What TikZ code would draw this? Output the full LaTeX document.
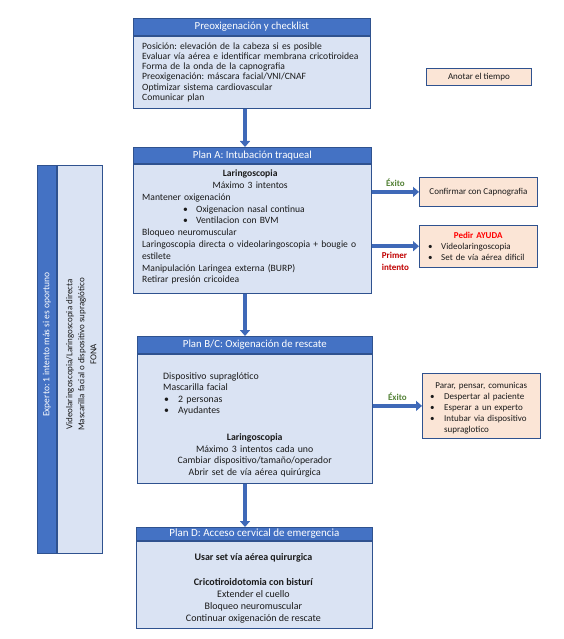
\documentclass[tikz,border=0pt]{standalone}
\usepackage{fontspec}
\setmainfont{Carlito}
\frenchspacing
\usetikzlibrary{positioning,arrows.meta,calc}
\definecolor{headblue}{HTML}{4472C4}
\definecolor{boxline}{HTML}{2F528F}
\definecolor{bodyblue}{HTML}{DAE3F3}
\definecolor{notepeach}{HTML}{FBE5D6}
\definecolor{arrowblue}{HTML}{3F69B8}
\definecolor{textdark}{HTML}{1A1A1A}
\definecolor{okgreen}{HTML}{538135}
\definecolor{failred}{HTML}{C00000}
\definecolor{alertred}{HTML}{FF0000}
\tikzset{
  header/.style={draw=boxline, fill=headblue, text=white, line width=0.8pt,
    inner sep=0pt, font=\fontsize{10.8}{12}\selectfont},
  bodybox/.style={draw=boxline, fill=bodyblue, line width=0.8pt, inner sep=0pt},
  notebox/.style={draw=boxline, fill=notepeach, line width=0.8pt, inner sep=0pt},
  bodytext/.style={text=textdark, inner sep=0pt, align=left,
    font=\fontsize{9}{11.5}\selectfont},
  steplabel/.style={font=\bfseries\fontsize{9}{12}\selectfont, inner sep=1pt},
}
\tikzstyle{bigarrow} = [line width=4.5pt, draw=arrowblue, -{Triangle[width=10pt,length=6pt]}]

\begin{document}
\begin{tikzpicture}[x=1pt,y=-1pt,node distance=0pt]
  \useasboundingbox (0,0) rectangle (563,639);
  \coordinate (spine) at (245,0);

  % preoxigenacion
  \node[header, minimum width=237pt, minimum height=17pt, anchor=north west] (preohead) at (133,18) {Preoxigenación y checklist};
  \node[bodybox, minimum width=237pt, minimum height=72pt, below=0pt of preohead] (preobody) {};
  \node[bodytext, text width=228pt, font=\fontsize{9.6}{10.2}\selectfont, anchor=west] (preotext) at ($(preobody.west)+(9,0)$) {Posición: elevación de la cabeza si es posible\\
    Evaluar vía aérea e identificar membrana cricotiroidea\\
    Forma de la onda de la capnografia\\
    Preoxigenación: máscara facial/VNI/CNAF\\
    Optimizar sistema cardiovascular\\
    Comunicar plan};

  % plan A
  \node[header, minimum width=238pt, minimum height=16pt, anchor=north west] (planahead) at (133,147) {Plan A: Intubación traqueal};
  \node[bodybox, minimum width=238pt, minimum height=129pt, below=0pt of planahead] (planabody) {};
  \node[bodytext, text width=224pt, font=\fontsize{9.6}{11.8}\selectfont, anchor=west] (planatext) at ($(planabody.west)+(9,-1.5)$) {\makebox[216pt]{\bfseries Laringoscopia}\\
    \makebox[216pt]{Máximo 3 intentos}\\
    Mantener oxigenación\\
    \hspace*{41pt}\makebox[13pt][l]{\textbullet}Oxigenacion nasal continua\\
    \hspace*{41pt}\makebox[13pt][l]{\textbullet}Ventilacion con BVM\\
    Bloqueo neuromuscular\\
    Laringoscopia directa o videolaringoscopia + bougie o\\
    estilete\\
    Manipulación Laringea externa (BURP)\\
    Retirar presión cricoidea};

  % plan B/C
  \node[header, minimum width=235pt, minimum height=17pt, anchor=north west] (planbchead) at (137,336) {Plan B/C: Oxigenación de rescate};
  \node[bodybox, minimum width=235pt, minimum height=129pt, below=0pt of planbchead] (planbcbody) {};
  \node[bodytext, text width=183pt, font=\fontsize{9.8}{11.5}\selectfont, anchor=west] (planbctext) at ($(planbcbody.west)+(26,6)$) {Dispositivo supraglótico\\
    Mascarilla facial\\
    \hspace*{1pt}\makebox[14pt][l]{\textbullet}2 personas\\
    \hspace*{1pt}\makebox[14pt][l]{\textbullet}Ayudantes\\[15.5pt]
    \makebox[\linewidth]{\bfseries Laringoscopia}\\
    \makebox[\linewidth]{Máximo 3 intentos cada uno}\\
    \makebox[\linewidth]{Cambiar dispositivo/tamaño/operador}\\
    \makebox[\linewidth]{Abrir set de vía aérea quirúrgica}};

  % plan D
  \node[header, minimum width=236pt, minimum height=13pt, anchor=north west, font=\fontsize{11}{12}\selectfont] (plandhead) at (136,527) {Plan D: Acceso cervical de emergencia};
  \node[bodybox, minimum width=236pt, minimum height=87pt, below=0pt of plandhead] (plandbody) {};
  \node[bodytext, align=center, font=\fontsize{10}{12}\selectfont] (plandtext) at ($(plandbody.center)+(-1,3.5)$) {\bfseries Usar set vía aérea quirurgica\\[13pt]
    \bfseries Cricotiroidotomia con bisturí\\
    Extender el cuello\\
    Bloqueo neuromuscular\\
    Continuar oxigenación de rescate};

  % experto
  \node[header, minimum width=19pt, minimum height=388pt, anchor=north west] (expertohead) at (37,165) {};
  \node[bodybox, minimum width=45pt, minimum height=388pt, right=0pt of expertohead] (expertobody) {};
  \node[text=white, rotate=90, inner sep=0pt, font=\fontsize{9.5}{12}\selectfont] (expertotitle) at ($(expertohead.center)+(0,-15)$) {Experto: 1 intento más si es oportuno};
  \node[bodytext, rotate=90, align=center, font=\fontsize{9}{12}\selectfont] (expertotext) at ($(expertobody.center)+(1.5,-5)$) {Videolaringoscopia/Laringoscopia directa\\
    Mascarilla facial o dispositivo supraglótico\\
    FONA};

  % notas
  \node[notebox, bodytext, align=center, minimum width=105pt, minimum height=17pt, anchor=north west] (tiempo) at (426,68) {Anotar el tiempo};
  \node[notebox, bodytext, align=center, minimum width=118pt, minimum height=29pt, anchor=north west] (capno) at (419,177) {Confirmar con Capnografia};
  \node[notebox, minimum width=118pt, minimum height=42pt, below=18pt of capno] (ayuda) {};
  \node[bodytext, text width=104pt, font=\fontsize{9}{11}\selectfont, anchor=west] (ayudatext) at ($(ayuda.west)+(7,0)$) {\makebox[\linewidth]{\color{alertred}\bfseries Pedir AYUDA}\\
    \hspace*{2pt}\makebox[13pt][l]{\textbullet}Videolaringoscopia\\
    \hspace*{2pt}\makebox[13pt][l]{\textbullet}Set de vía aérea dificil};
  \node[notebox, minimum width=118pt, minimum height=65pt, anchor=north west] (parar) at (422,373) {};
  \node[bodytext, text width=110pt, font=\fontsize{9}{11}\selectfont, anchor=west] (parartext) at ($(parar.west)+(4,2.5)$) {\makebox[\linewidth]{Parar, pensar, comunicas}\\
    \hspace*{4pt}\makebox[14pt][l]{\textbullet}Despertar al paciente\\
    \hspace*{4pt}\makebox[14pt][l]{\textbullet}Esperar a un experto\\
    \hspace*{4pt}\makebox[14pt][l]{\textbullet}Intubar via dispositivo\\
    \hspace*{18pt}supraglotico};

  \draw[bigarrow] (preobody.south -| spine) -- (planahead.north -| spine);
  \draw[bigarrow] (planabody.south -| spine) -- (planbchead.north -| spine);
  \draw[bigarrow] (planbcbody.south -| spine) -- (plandhead.north -| spine);
  \draw[bigarrow] (capno.west -| planabody.east) -- (capno.west) node[midway, above=2pt, steplabel, text=okgreen] {Éxito};
  \draw[bigarrow] (ayuda.west -| planabody.east) -- (ayuda.west) node[midway, below=3pt, steplabel, text=failred, align=left] {Primer\\intento};
  \draw[bigarrow] (parar.west -| planbcbody.east) -- (parar.west) node[midway, above=2pt, steplabel, text=okgreen] {Éxito};

\end{tikzpicture}
\end{document}
